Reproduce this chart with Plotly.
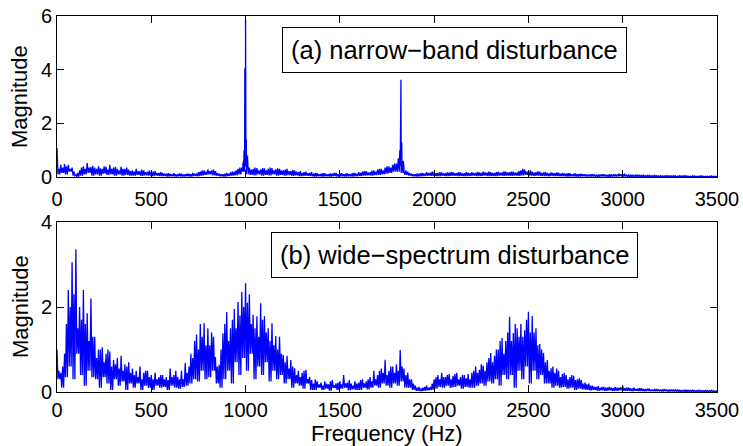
import plotly.graph_objects as go

# Spectrum bins every 20 Hz (0 ... 3500 Hz); each bin has a main peak,
# a secondary peak 10 Hz later and a trough level
freq_hz = list(range(0, 3501, 20))

# (a) narrow-band disturbance: background noise
a_peak = [
    1.08, 0.45, 0.48, 0.45, 0.35, 0.08, 0.25, 0.40, 0.52, 0.38,
    0.35, 0.40, 0.30, 0.38, 0.45, 0.35, 0.30, 0.38, 0.30, 0.28,
    0.25, 0.30, 0.22, 0.25, 0.20, 0.18, 0.22, 0.15, 0.15, 0.12,
    0.12, 0.14, 0.10, 0.12, 0.10, 0.12, 0.15, 0.12, 0.20, 0.25,
    0.28, 0.25, 0.22, 0.12, 0.10, 0.15, 0.18, 0.20, 0.30, 0.35,
    0.40, 0.35, 0.30, 0.33, 0.28, 0.32, 0.30, 0.33, 0.28, 0.30,
    0.25, 0.30, 0.22, 0.25, 0.18, 0.15, 0.20, 0.15, 0.12, 0.14,
    0.12, 0.14, 0.10, 0.12, 0.15, 0.12, 0.10, 0.14, 0.12, 0.15,
    0.18, 0.20, 0.22, 0.18, 0.25, 0.28, 0.30, 0.35, 0.40, 0.45,
    0.50, 0.60, 0.35, 0.20, 0.12, 0.10, 0.12, 0.15, 0.18, 0.16,
    0.18, 0.15, 0.17, 0.14, 0.16, 0.18, 0.15, 0.17, 0.14, 0.16,
    0.18, 0.15, 0.17, 0.20, 0.16, 0.18, 0.15, 0.20, 0.17, 0.20,
    0.18, 0.20, 0.17, 0.25, 0.28, 0.22, 0.20, 0.18, 0.20, 0.17,
    0.15, 0.17, 0.14, 0.16, 0.15, 0.12, 0.14, 0.12, 0.10, 0.12,
    0.10, 0.09, 0.10, 0.08, 0.09, 0.10, 0.08, 0.09, 0.10, 0.12,
    0.10, 0.08, 0.07, 0.06, 0.07, 0.06, 0.05, 0.06, 0.05, 0.05,
    0.05, 0.04, 0.05, 0.04, 0.04, 0.05, 0.04, 0.04, 0.03, 0.04,
    0.03, 0.04, 0.03, 0.03, 0.03, 0.03,
]
a_peak2 = [
    0.30, 0.35, 0.40, 0.30, 0.20, 0.15, 0.35, 0.30, 0.35, 0.42,
    0.30, 0.32, 0.40, 0.28, 0.30, 0.38, 0.25, 0.30, 0.35, 0.22,
    0.20, 0.22, 0.28, 0.18, 0.24, 0.20, 0.15, 0.18, 0.12, 0.14,
    0.10, 0.10, 0.13, 0.09, 0.12, 0.10, 0.12, 0.18, 0.25, 0.20,
    0.22, 0.28, 0.15, 0.10, 0.12, 0.12, 0.20, 0.25, 0.35, 0.60,
    0.60, 0.28, 0.35, 0.25, 0.33, 0.25, 0.35, 0.25, 0.32, 0.25,
    0.28, 0.22, 0.27, 0.20, 0.22, 0.18, 0.14, 0.18, 0.15, 0.10,
    0.14, 0.10, 0.13, 0.15, 0.10, 0.14, 0.12, 0.10, 0.15, 0.12,
    0.15, 0.22, 0.17, 0.24, 0.20, 0.30, 0.25, 0.40, 0.35, 0.50,
    0.70, 0.45, 0.25, 0.15, 0.10, 0.13, 0.14, 0.12, 0.15, 0.20,
    0.14, 0.18, 0.13, 0.17, 0.19, 0.14, 0.18, 0.13, 0.18, 0.14,
    0.15, 0.19, 0.15, 0.17, 0.20, 0.15, 0.18, 0.16, 0.21, 0.16,
    0.20, 0.16, 0.22, 0.30, 0.20, 0.25, 0.16, 0.21, 0.15, 0.19,
    0.13, 0.15, 0.17, 0.12, 0.13, 0.14, 0.10, 0.13, 0.11, 0.10,
    0.08, 0.10, 0.08, 0.09, 0.10, 0.07, 0.10, 0.08, 0.09, 0.10,
    0.12, 0.07, 0.08, 0.07, 0.06, 0.07, 0.06, 0.05, 0.06, 0.04,
    0.04, 0.05, 0.04, 0.05, 0.03, 0.04, 0.05, 0.03, 0.04, 0.03,
    0.04, 0.03, 0.03, 0.04, 0.03, 0.02,
]
a_trough = [
    0.10, 0.15, 0.10, 0.20, 0.05, 0.01, 0.05, 0.10, 0.15, 0.05,
    0.10, 0.05, 0.12, 0.08, 0.10, 0.05, 0.10, 0.05, 0.08, 0.05,
    0.05, 0.08, 0.04, 0.06, 0.05, 0.03, 0.05, 0.03, 0.04, 0.02,
    0.03, 0.02, 0.03, 0.02, 0.03, 0.02, 0.04, 0.03, 0.05, 0.08,
    0.10, 0.06, 0.05, 0.03, 0.02, 0.04, 0.05, 0.06, 0.10, 0.20,
    0.10, 0.08, 0.06, 0.10, 0.05, 0.08, 0.06, 0.10, 0.05, 0.08,
    0.05, 0.07, 0.04, 0.06, 0.03, 0.04, 0.05, 0.03, 0.02, 0.03,
    0.02, 0.03, 0.02, 0.03, 0.02, 0.03, 0.02, 0.03, 0.02, 0.03,
    0.04, 0.05, 0.06, 0.05, 0.07, 0.08, 0.10, 0.12, 0.15, 0.20,
    0.20, 0.15, 0.08, 0.05, 0.03, 0.02, 0.03, 0.04, 0.05, 0.04,
    0.04, 0.03, 0.05, 0.03, 0.04, 0.05, 0.03, 0.04, 0.03, 0.04,
    0.05, 0.03, 0.04, 0.05, 0.03, 0.04, 0.03, 0.05, 0.04, 0.05,
    0.04, 0.05, 0.04, 0.06, 0.08, 0.05, 0.04, 0.05, 0.04, 0.03,
    0.03, 0.04, 0.03, 0.03, 0.03, 0.02, 0.03, 0.02, 0.02, 0.03,
    0.02, 0.02, 0.02, 0.01, 0.02, 0.02, 0.01, 0.02, 0.02, 0.03,
    0.02, 0.01, 0.01, 0.01, 0.01, 0.01, 0.01, 0.01, 0.01, 0.01,
    0.01, 0.01, 0.01, 0.01, 0.01, 0.01, 0.01, 0.01, 0.01, 0.01,
    0.01, 0.01, 0.01, 0.01, 0.01, 0.01,
]
# (a) narrow-band tones near 1000 Hz and 1824 Hz
tone_hz = [986, 990, 992, 994, 996, 998, 1000, 1002, 1004, 1006, 1010, 1014,
           1812, 1818, 1820, 1822, 1823, 1824, 1826, 1828, 1830, 1836, 1840]
tone_mag = [0.50, 0.20, 1.00, 0.40, 4.05, 1.20, 5.85, 0.50, 1.40, 0.40, 0.80, 0.20,
            0.50, 1.00, 0.40, 1.88, 0.60, 3.62, 0.50, 1.30, 0.30, 0.60, 0.20]

# (b) wide-spectrum disturbance
b_peak = [
    1.00, 0.45, 0.90, 2.40, 3.05, 3.36, 2.00, 2.40, 1.85, 2.20,
    1.30, 1.00, 1.05, 0.90, 0.95, 0.75, 0.80, 0.85, 0.65, 0.70,
    0.55, 0.50, 0.60, 0.45, 0.50, 0.40, 0.45, 0.35, 0.40, 0.35,
    0.55, 0.40, 0.35, 0.50, 0.68, 0.60, 0.80, 1.35, 1.60, 1.62,
    1.50, 1.40, 0.82, 0.64, 1.38, 1.88, 1.50, 1.95, 2.12, 2.35,
    2.56, 2.30, 1.82, 1.78, 2.09, 1.78, 1.50, 1.62, 1.32, 1.30,
    0.87, 0.85, 0.75, 0.56, 0.50, 0.45, 0.52, 0.35, 0.20, 0.25,
    0.22, 0.25, 0.18, 0.28, 0.20, 0.25, 0.40, 0.22, 0.20, 0.25,
    0.22, 0.30, 0.25, 0.35, 0.50, 0.40, 0.55, 0.76, 0.50, 0.60,
    0.65, 0.99, 0.55, 0.45, 0.30, 0.15, 0.12, 0.10, 0.15, 0.12,
    0.30, 0.40, 0.45, 0.35, 0.42, 0.38, 0.45, 0.35, 0.40, 0.42,
    0.45, 0.60, 0.52, 0.62, 0.70, 0.92, 0.85, 1.00, 1.27, 1.20,
    1.77, 1.39, 1.50, 1.60, 1.45, 1.89, 1.79, 1.50, 1.13, 0.92,
    0.75, 0.56, 0.45, 0.50, 0.42, 0.40, 0.35, 0.38, 0.30, 0.28,
    0.22, 0.20, 0.15, 0.12, 0.10, 0.12, 0.10, 0.10, 0.12, 0.10,
    0.14, 0.10, 0.09, 0.10, 0.08, 0.09, 0.07, 0.08, 0.06, 0.07,
    0.06, 0.07, 0.05, 0.06, 0.05, 0.05, 0.04, 0.05, 0.04, 0.04,
    0.04, 0.03, 0.04, 0.03, 0.03, 0.03,
]
b_peak2 = [
    0.50, 0.60, 1.60, 2.00, 2.30, 1.50, 1.70, 1.60, 1.20, 1.30,
    0.80, 1.00, 0.70, 1.00, 0.60, 0.65, 0.55, 0.50, 0.60, 0.45,
    0.40, 0.35, 0.30, 0.50, 0.35, 0.30, 0.30, 0.40, 0.30, 0.28,
    0.35, 0.50, 0.30, 0.30, 0.45, 0.90, 1.20, 1.00, 1.30, 1.10,
    1.10, 1.30, 0.60, 1.00, 1.60, 1.20, 1.70, 1.50, 1.80, 2.00,
    2.10, 1.60, 1.50, 1.30, 1.70, 1.40, 1.20, 1.10, 1.00, 0.90,
    0.70, 0.55, 0.60, 0.40, 0.35, 0.50, 0.30, 0.28, 0.30, 0.18,
    0.15, 0.20, 0.25, 0.15, 0.22, 0.18, 0.20, 0.28, 0.15, 0.20,
    0.28, 0.20, 0.30, 0.25, 0.30, 0.50, 0.45, 0.40, 0.60, 0.45,
    0.50, 0.60, 0.40, 0.30, 0.20, 0.10, 0.08, 0.12, 0.10, 0.20,
    0.35, 0.30, 0.35, 0.40, 0.30, 0.42, 0.30, 0.40, 0.32, 0.30,
    0.50, 0.45, 0.65, 0.50, 0.80, 0.70, 1.00, 1.20, 0.90, 1.40,
    1.20, 1.60, 1.30, 1.30, 1.70, 1.40, 1.40, 1.10, 1.00, 0.70,
    0.50, 0.60, 0.55, 0.35, 0.45, 0.30, 0.40, 0.28, 0.32, 0.20,
    0.18, 0.15, 0.12, 0.14, 0.12, 0.10, 0.12, 0.09, 0.10, 0.11,
    0.09, 0.11, 0.08, 0.07, 0.09, 0.07, 0.08, 0.06, 0.07, 0.06,
    0.05, 0.06, 0.06, 0.05, 0.06, 0.04, 0.05, 0.04, 0.05, 0.03,
    0.04, 0.03, 0.03, 0.04, 0.02, 0.03,
]
b_trough = [
    0.30, 0.10, 0.35, 0.60, 0.30, 0.90, 0.40, 0.15, 0.50, 0.35,
    0.30, 0.10, 0.35, 0.20, 0.05, 0.30, 0.15, 0.25, 0.05, 0.20,
    0.10, 0.20, 0.05, 0.15, 0.10, 0.05, 0.15, 0.10, 0.12, 0.05,
    0.15, 0.10, 0.08, 0.12, 0.15, 0.20, 0.30, 0.25, 0.50, 0.30,
    0.35, 0.50, 0.20, 0.10, 0.30, 0.50, 0.20, 0.70, 0.40, 0.80,
    0.50, 0.90, 0.30, 0.60, 0.40, 0.70, 0.25, 0.50, 0.30, 0.40,
    0.20, 0.30, 0.10, 0.20, 0.15, 0.08, 0.20, 0.05, 0.05, 0.10,
    0.05, 0.08, 0.03, 0.10, 0.05, 0.08, 0.10, 0.04, 0.06, 0.05,
    0.05, 0.10, 0.06, 0.10, 0.15, 0.10, 0.20, 0.15, 0.10, 0.20,
    0.15, 0.25, 0.10, 0.10, 0.05, 0.03, 0.02, 0.03, 0.04, 0.05,
    0.08, 0.12, 0.10, 0.15, 0.10, 0.12, 0.15, 0.08, 0.12, 0.10,
    0.10, 0.15, 0.20, 0.15, 0.25, 0.20, 0.30, 0.15, 0.40, 0.30,
    0.40, 0.10, 0.50, 0.30, 0.60, 0.20, 0.50, 0.30, 0.40, 0.20,
    0.20, 0.10, 0.15, 0.10, 0.12, 0.08, 0.10, 0.05, 0.08, 0.06,
    0.05, 0.04, 0.05, 0.03, 0.04, 0.03, 0.04, 0.03, 0.03, 0.04,
    0.03, 0.03, 0.02, 0.03, 0.02, 0.02, 0.02, 0.02, 0.02, 0.02,
    0.02, 0.02, 0.01, 0.02, 0.01, 0.01, 0.01, 0.01, 0.01, 0.01,
    0.01, 0.01, 0.01, 0.01, 0.01, 0.01,
]

x_ticks = [0, 500, 1000, 1500, 2000, 2500, 3000, 3500]
a_yticks = [0, 2, 4, 6]
b_yticks = [0, 2, 4]


def spectrum_line(freqs, peaks, peaks2, troughs, extra_f=(), extra_v=()):
    """Zig-zag through each bin (peak, trough, secondary peak, trough), then merge tone samples."""
    pts = []
    for f, p, p2, t in zip(freqs, peaks, peaks2, troughs):
        pts += [(f, p), (f + 5, t), (f + 10, p2), (f + 15, t)]
    pts += list(zip(extra_f, extra_v))
    pts.sort(key=lambda q: q[0])
    return [q[0] for q in pts], [q[1] for q in pts]


ax, ay = spectrum_line(freq_hz, a_peak, a_peak2, a_trough, tone_hz, tone_mag)
bx, by = spectrum_line(freq_hz, b_peak, b_peak2, b_trough)

W, H = 743, 446
FONT = "Liberation Sans, Arial, Helvetica, sans-serif"
BLUE = "#0000ff"

fig = go.Figure()
fig.add_trace(go.Scatter(x=ax, y=ay, mode="lines", line=dict(color=BLUE, width=1.3),
                         xaxis="x", yaxis="y", showlegend=False, hoverinfo="skip"))
fig.add_trace(go.Scatter(x=bx, y=by, mode="lines", line=dict(color=BLUE, width=1.3),
                         xaxis="x2", yaxis="y2", showlegend=False, hoverinfo="skip"))

x_dom = [57 / W, 717 / W]
axis_common = dict(showline=True, linecolor="black", linewidth=1, mirror="ticks",
                   ticks="inside", ticklen=7, tickcolor="black", showgrid=False,
                   zeroline=False, tickfont=dict(family=FONT, size=20, color="black"))

fig.update_layout(
    width=W, height=H,
    margin=dict(l=0, r=0, t=0, b=0, autoexpand=False),
    paper_bgcolor="white", plot_bgcolor="white",
    xaxis=dict(domain=x_dom, range=[0, 3500], tickvals=x_ticks, anchor="y",
               ticklabelstandoff=4, **axis_common),
    yaxis=dict(domain=[1 - 177 / H, 1 - 16 / H], range=[0, 6], tickvals=a_yticks,
               anchor="x", **axis_common),
    xaxis2=dict(domain=x_dom, range=[0, 3500], tickvals=x_ticks, anchor="y2",
                ticklabelstandoff=0, **axis_common),
    yaxis2=dict(domain=[1 - 392 / H, 1 - 222 / H], range=[0, 4], tickvals=b_yticks,
                anchor="x2", **axis_common),
)

box = dict(showarrow=False, xref="paper", yref="paper", xanchor="center", yanchor="middle",
           bordercolor="black", borderwidth=1, borderpad=8, bgcolor="white",
           font=dict(family=FONT, size=25.5, color="black"))
fig.add_annotation(text="(a) narrow\u2212band disturbance", x=454.5 / W, y=1 - 50 / H, **box)
fig.add_annotation(text="(b) wide\u2212spectrum disturbance", x=454 / W, y=1 - 255 / H, **box)

label = dict(showarrow=False, xref="paper", yref="paper", xanchor="center", yanchor="middle",
             font=dict(family=FONT, size=22, color="black"))
fig.add_annotation(text="Magnitude", textangle=-90, x=20 / W, y=1 - 97 / H, **label)
fig.add_annotation(text="Magnitude", textangle=-90, x=20 / W, y=1 - 307 / H, **label)
fig.add_annotation(text="Frequency (Hz)", x=387 / W, y=1 - 433 / H, **label)

fig.write_html("out.html")
